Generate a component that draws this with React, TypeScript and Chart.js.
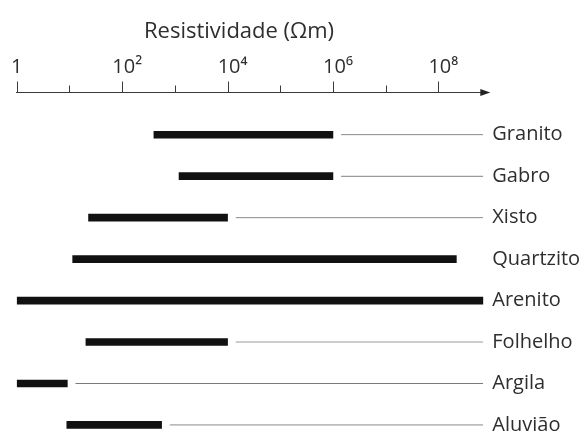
import React, { useEffect, useRef } from "react";
import { Chart, registerables } from "chart.js";

Chart.register(...registerables);

// ---- data ----
const rocks = ["Granito", "Gabro", "Xisto", "Quartzito", "Arenito", "Folhelho", "Argila", "Aluvião"];
const XMAX = Math.pow(10, 8.854);
const rangeLow = [400, 1200, 23, 11.5, 1, 20.5, 1, 8.9];
const rangeHigh = [1e6, 1e6, 1e4, 2.2e8, XMAX, 1e4, 9.1, 560];
const hasGuide = [true, true, true, false, false, true, true, true];
const decadeExponents = [0, 1, 2, 3, 4, 5, 6, 7, 8];
const labeledExponents = [0, 2, 4, 6, 8];
const axisTitle = "Resistividade (Ωm)";

const SUP: Record<string, string> = { "0": "⁰", "1": "¹", "2": "²", "3": "³", "4": "⁴", "5": "⁵", "6": "⁶", "7": "⁷", "8": "⁸", "9": "⁹" };
const FONT = "'Open Sans', 'Noto Sans', sans-serif";
const TEXT = "#2e2e2e";
const AXIS = "#3a3a3a";

function expLabel(e: number): string {
  if (e === 0) return "1";
  return "\u2002" + "10" + String(e).split("").map((c) => SUP[c]).join("");
}

const axisDecor = {
  id: "axisDecor",
  afterDraw(chart: any) {
    const { ctx, chartArea } = chart;
    const x = chart.scales.x;
    const top = chartArea.top + 0.5;
    ctx.save();
    ctx.strokeStyle = AXIS;
    ctx.lineWidth = 1;
    x.ticks.forEach((t: any) => {
      const e = Math.round(Math.log10(t.value));
      const px = Math.round(x.getPixelForValue(t.value)) + 0.5;
      const len = e % 2 === 0 ? 11 : 7;
      ctx.beginPath();
      ctx.moveTo(px, top);
      ctx.lineTo(px, top - len);
      ctx.stroke();
    });
    // arrow head at the end of the axis
    const r = chartArea.right;
    ctx.fillStyle = "#222";
    ctx.beginPath();
    ctx.moveTo(r - 3, top - 3.5);
    ctx.lineTo(r + 7, top);
    ctx.lineTo(r - 3, top + 3.5);
    ctx.closePath();
    ctx.fill();
    ctx.restore();
  },
};

export default function App() {
  const ref = useRef<HTMLCanvasElement | null>(null);

  useEffect(() => {
    if (!ref.current) return;
    const thick = rocks.map((_, i) => ({ y: i, x: [rangeLow[i], rangeHigh[i]] }));
    const guides = rocks
      .map((_, i) => (hasGuide[i] ? { y: i, x: [rangeHigh[i], XMAX] } : null))
      .filter((d) => d !== null);

    const chart = new Chart(ref.current, {
      type: "bar",
      data: {
        datasets: [
          {
            label: "faixa",
            data: thick as any,
            backgroundColor: "#111",
            barThickness: 7,
            grouped: false,
            borderWidth: 0,
          },
          {
            label: "guia",
            data: guides as any,
            backgroundColor: "#7a7a7a",
            borderColor: "rgba(0,0,0,0)",
            borderWidth: { left: 8.5, right: 0, top: 0, bottom: 0 } as any,
            borderSkipped: false,
            barThickness: 1,
            grouped: false,
          },
        ],
      },
      options: {
        indexAxis: "y",
        animation: false,
        responsive: true,
        maintainAspectRatio: false,
        layout: { padding: { left: 16.8, top: 0, right: 0, bottom: 0 } },
        plugins: { legend: { display: false }, tooltip: { enabled: false }, title: { display: false } },
        scales: {
          x: {
            type: "logarithmic",
            position: "top",
            min: 1,
            max: XMAX,
            grid: { display: true, drawOnChartArea: false, drawTicks: false },
            border: { display: true, color: AXIS, width: 1 },
            title: {
              display: true,
              text: axisTitle + "\u2003",
              color: TEXT,
              font: { family: FONT, size: 22, lineHeight: 1.1 },
              padding: { top: 19.2, bottom: 0 },
            },
            ticks: {
              autoSkip: false,
              maxRotation: 0,
              padding: 12.3,
              color: TEXT,
              font: { family: FONT, size: 20, lineHeight: 1.2 },
              callback: (v: any) => {
                const e = Math.round(Math.log10(Number(v)));
                return labeledExponents.includes(e) ? expLabel(e) : "";
              },
            },
            afterBuildTicks: (s: any) => {
              s.ticks = decadeExponents.map((e) => ({ value: Math.pow(10, e) }));
            },
            afterFit: (s: any) => {
              s.paddingLeft = 0;
              s.paddingRight = 0;
            },
          },
          y: {
            type: "linear",
            position: "right",
            reverse: true,
            offset: false,
            min: -1.03,
            max: 7.17,
            grid: { display: false, drawTicks: false, offset: false },
            border: { display: false },
            ticks: {
              padding: 9,
              color: TEXT,
              font: { family: FONT, size: 20, lineHeight: 1.2 },
              callback: (v: any) => rocks[Number(v)] ?? "",
            },
            afterBuildTicks: (s: any) => {
              s.ticks = rocks.map((_, i) => ({ value: i }));
            },
            afterFit: (s: any) => {
              s.width = 97.7;
              s.paddingTop = 0;
              s.paddingBottom = 0;
            },
          },
        },
      },
      plugins: [axisDecor],
    });
    return () => chart.destroy();
  }, []);

  return (
    <div style={{ position: "fixed", left: 0, top: 0, width: 581, height: 432, background: "#fff" }}>
      <canvas ref={ref} />
    </div>
  );
}
